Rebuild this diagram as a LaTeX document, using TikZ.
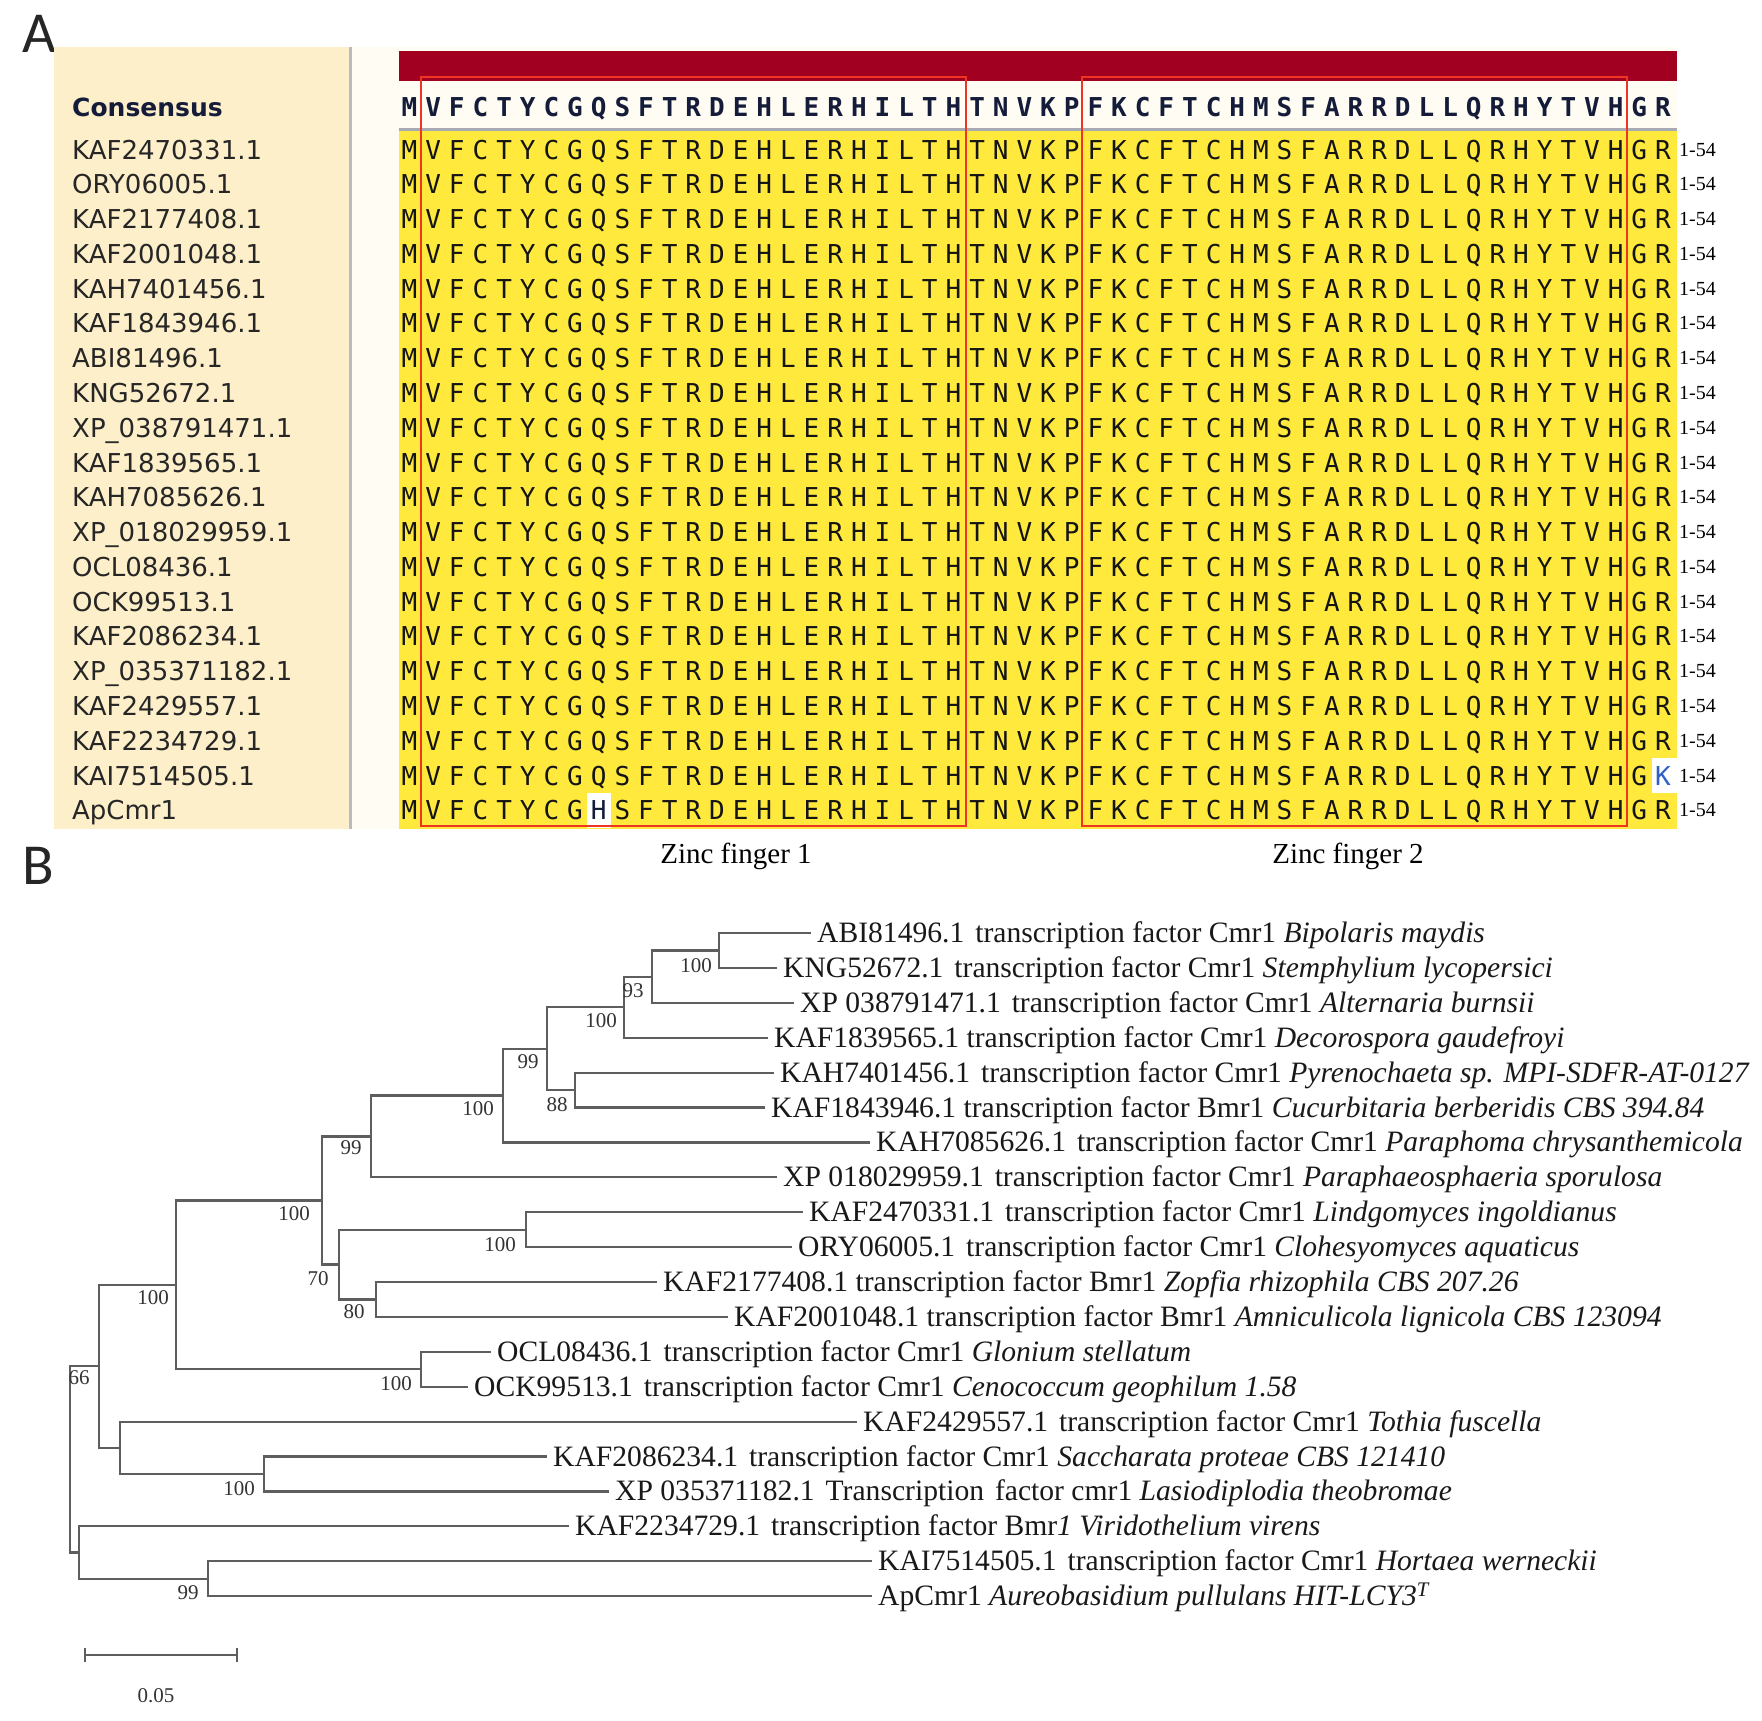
\documentclass[tikz,border=0pt]{standalone}
\usepackage{fontspec}
\setmainfont{Liberation Serif}
\newfontfamily\labfont{DejaVu Sans}
\newfontfamily\resfont{DejaVu Sans Mono}
\newfontfamily\panelfont{Carlito}
\definecolor{beige}{HTML}{FDEFC9}
\definecolor{offw}{HTML}{FFFCF3}
\definecolor{crim}{HTML}{A10021}
\definecolor{yel}{HTML}{FFE93C}
\definecolor{boxred}{HTML}{EE3524}
\definecolor{navy}{HTML}{141C3A}
\definecolor{treeg}{HTML}{5E5E5E}
\definecolor{sepgray}{HTML}{A7A9B3}
\definecolor{kblue}{HTML}{2F5FC8}
\def\seq{M,V,F,C,T,Y,C,G,Q,S,F,T,R,D,E,H,L,E,R,H,I,L,T,H,T,N,V,K,P,F,K,C,F,T,C,H,M,S,F,A,R,R,D,L,L,Q,R,H,Y,T,V,H,G,R}
\newcommand\gsp{\hspace{0.12em}}
\begin{document}
\begin{tikzpicture}[x=1pt,y=-1pt,
  res/.style={anchor=base,inner sep=0pt,font=\resfont\fontsize{26}{26}\selectfont,text=black!92},
  cres/.style={anchor=base,inner sep=0pt,font=\resfont\bfseries\fontsize{26}{26}\selectfont,text=navy},
  rowlab/.style={anchor=west,inner sep=0pt,text height=19pt,text depth=0pt,font=\labfont\fontsize{26}{26}\selectfont,text=black!85},
  rng/.style={anchor=west,inner sep=0pt,text height=13pt,text depth=0pt,font=\fontsize{20}{20}\selectfont},
  leaf/.style={anchor=west,inner sep=0pt,text height=19pt,text depth=0pt,font=\fontsize{29.6}{29.6}\selectfont,text=black!90},
  boot/.style={inner sep=0pt,font=\fontsize{21}{21}\selectfont,text=black!80},
  br/.style={draw=treeg,line width=2.2pt},
  zbox/.style={draw=boxred,line width=2pt},
  panel/.style={inner sep=0pt,font=\panelfont\fontsize{58}{58}\selectfont,text=black!85}
]
\useasboundingbox (0,0) rectangle (1762,1721);
\fill[white] (0,0) rectangle (1762,1721);
% ---------- Panel A ----------
\node[panel,anchor=west] (pA) at (22,34) {A};
\fill[beige] (54,47) rectangle (349,829);
\draw[sepgray!80,line width=3pt] (350.5,47) -- (350.5,829);
\fill[offw] (352,47) rectangle (1677,131);
\fill[offw] (352,131) rectangle (399,829);
\fill[crim] (399,51) rectangle (1677,81);
\fill[yel] (399,131) rectangle (1677,829);
\draw[sepgray,line width=3pt] (399,129.5) -- (1677,129.5);
\node[rowlab,font=\labfont\bfseries\fontsize{25}{25}\selectfont,text=navy] (cons) at (72,107) {Consensus};
\foreach \c [count=\i] in \seq {
  \pgfmathsetmacro\xx{409.5+(\i-1)*23.65}
  \node[cres] (cc\i) at (\xx,116.5) {\c};
}
% differing residue cells (white background)
\fill[white] (1651.5,758.3) rectangle (1677,793);
\fill[white] (587,793) rectangle (610.5,828);
\foreach \nm [count=\j] in {KAF2470331.1,ORY06005.1,KAF2177408.1,KAF2001048.1,KAH7401456.1,KAF1843946.1,ABI81496.1,KNG52672.1,XP\_038791471.1,KAF1839565.1,KAH7085626.1,XP\_018029959.1,OCL08436.1,OCK99513.1,KAF2086234.1,XP\_035371182.1,KAF2429557.1,KAF2234729.1,KAI7514505.1,ApCmr1} {
  \pgfmathsetmacro\yy{149.5+(\j-1)*34.78}
  \node[rowlab] (r\j) at (72,\yy) {\nm};
  \node[rng] (g\j) at (1679,\yy) {1-54};
  \foreach \c [count=\i] in \seq {
    \pgfmathtruncatemacro\skipres{((\j==20)&&(\i==9))||((\j==19)&&(\i==54)) ? 1 : 0}
    \ifnum\skipres=0
      \pgfmathsetmacro\xx{409.5+(\i-1)*23.65}
      \node[res] (a\j-\i) at (\xx,\yy+9.5) {\c};
    \fi
  }
}
\node[res,text=kblue] (a19-54) at (1663,785) {K};
\node[res,text=navy] (a20-9) at (598.7,819.8) {H};
% zinc finger boxes
\draw[zbox] (421,77) rectangle (966,826);
\draw[zbox] (1082,77) rectangle (1627,826);
\node[inner sep=0pt,font=\fontsize{29}{29}\selectfont] (zf1) at (736,856) {Zinc finger 1};
\node[inner sep=0pt,font=\fontsize{29}{29}\selectfont] (zf2) at (1348,856) {Zinc finger 2};
% ---------- Panel B ----------
\node[panel,anchor=west] (pB) at (22,866) {B};
% leaves
\node[leaf] (L1) at (817,933) {ABI81496.1\gsp{} transcription factor Cmr1 \textit{Bipolaris maydis}};
\node[leaf] (L2) at (783,967.9) {KNG52672.1\gsp{} transcription factor Cmr1 \textit{Stemphylium lycopersici}};
\node[leaf] (L3) at (800,1002.8) {XP 038791471.1\gsp{} transcription factor Cmr1 \textit{Alternaria burnsii}};
\node[leaf] (L4) at (774,1037.7) {KAF1839565.1 transcription factor Cmr1 \textit{Decorospora gaudefroyi}};
\node[leaf] (L5) at (780,1072.6) {KAH7401456.1\gsp{} transcription factor Cmr1 \textit{Pyrenochaeta sp. MPI-SDFR-AT-0127}};
\node[leaf] (L6) at (771,1107.5) {KAF1843946.1 transcription factor Bmr1 \textit{Cucurbitaria berberidis CBS 394.84}};
\node[leaf] (L7) at (876,1142.4) {KAH7085626.1\gsp{} transcription factor Cmr1 \textit{Paraphoma chrysanthemicola}};
\node[leaf] (L8) at (783,1177.3) {XP 018029959.1\gsp{} transcription factor Cmr1 \textit{Paraphaeosphaeria sporulosa}};
\node[leaf] (L9) at (809,1212.2) {KAF2470331.1\gsp{} transcription factor Cmr1 \textit{Lindgomyces ingoldianus}};
\node[leaf] (L10) at (798,1247.1) {ORY06005.1\gsp{} transcription factor Cmr1 \textit{Clohesyomyces aquaticus}};
\node[leaf] (L11) at (663,1282) {KAF2177408.1 transcription factor Bmr1 \textit{Zopfia rhizophila CBS 207.26}};
\node[leaf] (L12) at (734,1316.9) {KAF2001048.1 transcription factor Bmr1 \textit{Amniculicola lignicola CBS 123094}};
\node[leaf] (L13) at (497,1351.8) {OCL08436.1\gsp{} transcription factor Cmr1 \textit{Glonium stellatum}};
\node[leaf] (L14) at (474,1386.7) {OCK99513.1\gsp{} transcription factor Cmr1 \textit{Cenococcum geophilum 1.58}};
\node[leaf] (L15) at (863,1421.6) {KAF2429557.1\gsp{} transcription factor Cmr1 \textit{Tothia fuscella}};
\node[leaf] (L16) at (553,1456.5) {KAF2086234.1\gsp{} transcription factor Cmr1 \textit{Saccharata proteae CBS 121410}};
\node[leaf] (L17) at (615,1491.4) {XP 035371182.1\gsp{} Transcription\gsp{} factor cmr1 \textit{Lasiodiplodia theobromae}};
\node[leaf] (L18) at (575,1526.3) {KAF2234729.1\gsp{} transcription factor Bmr\textit{1 Viridothelium virens}};
\node[leaf] (L19) at (878,1561.2) {KAI7514505.1\gsp{} transcription factor Cmr1 \textit{Hortaea werneckii}};
\node[leaf] (L20) at (878,1596.1) {ApCmr1 \textit{Aureobasidium pullulans HIT-LCY3}\textsuperscript{\textit{T}}};
% internal nodes
\coordinate (n1) at (719,950.45);
\coordinate (n2) at (652,976.6);
\coordinate (n3) at (624,1007.2);
\coordinate (n4) at (575,1090.05);
\coordinate (n5) at (547,1048.6);
\coordinate (n6) at (503,1095.5);
\coordinate (n7) at (371,1136.4);
\coordinate (n8) at (526,1229.65);
\coordinate (n9) at (376,1299.45);
\coordinate (n10) at (339,1264.55);
\coordinate (n11) at (322,1200.5);
\coordinate (n12) at (421,1369.25);
\coordinate (n13) at (176,1284.9);
\coordinate (n14) at (264,1473.95);
\coordinate (n15) at (120,1447.8);
\coordinate (n16) at (99,1366.3);
\coordinate (n17) at (208,1578.65);
\coordinate (n18) at (79,1552.5);
\coordinate (root) at (70,1459.4);
% branches
\foreach \p/\c in {n1/L1,n1/L2,n2/L3,n3/L4,n4/L5,n4/L6,n6/L7,n7/L8,n8/L9,n8/L10,n9/L11,n9/L12,n12/L13,n12/L14,n15/L15,n14/L16,n14/L17,n18/L18,n17/L19,n17/L20}
  \draw[br] (\p) |- ([xshift=-6pt]\c.west);
\foreach \p/\c in {n2/n1,n3/n2,n5/n3,n5/n4,n6/n5,n7/n6,n11/n7,n10/n8,n10/n9,n11/n10,n13/n11,n13/n12,n15/n14,n16/n13,n16/n15,n18/n17,root/n16,root/n18}
  \draw[br] (\p) |- (\c);
% bootstrap values
\node[boot] (b1) at (696,966) {100};
\node[boot] (b2) at (633,991) {93};
\node[boot] (b3) at (601,1021) {100};
\node[boot] (b5) at (528,1062) {99};
\node[boot] (b4) at (557,1105) {88};
\node[boot] (b6) at (478,1109) {100};
\node[boot] (b7) at (351,1148) {99};
\node[boot] (b11) at (294,1214) {100};
\node[boot] (b8) at (500,1245) {100};
\node[boot] (b10) at (318,1279) {70};
\node[boot] (b9) at (354,1312) {80};
\node[boot] (b13) at (153,1298) {100};
\node[boot] (b12) at (396,1384) {100};
\node[boot] (b16) at (79,1378) {66};
\node[boot] (b14) at (239,1489) {100};
\node[boot] (b17) at (188,1593) {99};
% scale bar
\coordinate (sb1) at (85,1655);
\coordinate (sb2) at (237,1655);
\draw[br] (sb1) -- (sb2);
\draw[br] ([yshift=-7pt]sb1) -- ([yshift=7pt]sb1);
\draw[br] ([yshift=-7pt]sb2) -- ([yshift=7pt]sb2);
\node[boot] (sbl) at (156,1696) {0.05};
\end{tikzpicture}
\end{document}
